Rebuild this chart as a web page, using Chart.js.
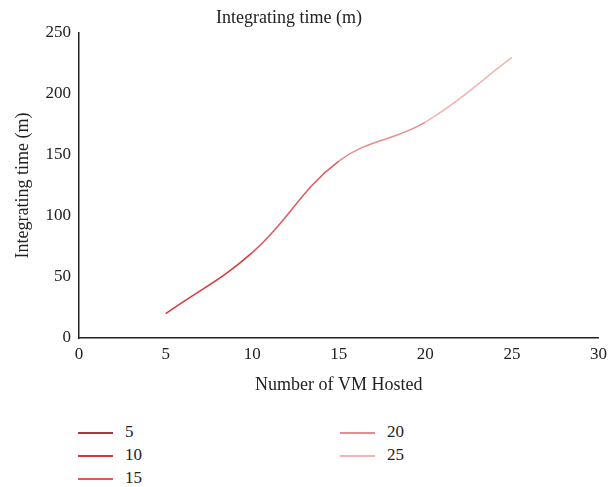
<!DOCTYPE html>
<html>
<head>
<meta charset="utf-8">
<script src="https://cdn.jsdelivr.net/npm/chart.js@4"></script>
<style>
  body { margin: 0; background: #fff; font-family: "Liberation Serif", serif; }
  #wrap { position: relative; width: 613px; height: 487px; }
  #box { position: absolute; left: 0; top: 0; width: 613px; height: 400px; }
  #title { position: absolute; left: 0; top: 7px; width: 578px; text-align: center; font-size: 18px; color: #222; }
  #legend { position: absolute; left: 0; top: 0; }
  .item { position: absolute; font-size: 17px; color: #222; line-height: 20px; }
  .item span.sw { position: absolute; left: 0; top: 10px; width: 35px; height: 1.5px; }
  .item span.lb { position: absolute; left: 47px; top: 0; white-space: nowrap; }
</style>
</head>
<body>
<div id="wrap">
  <div id="box"><canvas id="myChart"></canvas></div>
  <div id="title">Integrating time (m)</div>
  <div id="legend"></div>
</div>
<script>
// Number of VM hosted and integrating time
const vmHosted = [5, 10, 15, 20, 25];
const integratingTime = [20, 70, 145, 177, 230];
const seriesColors = ['#b0343a', '#d4393c', '#e05a5c', '#e88c8d', '#f1b4b4'];
const xTicks = [0, 5, 10, 15, 20, 25, 30];

const font = { family: "'Liberation Serif', serif", size: 17 };

const points = vmHosted.map((x, i) => ({ x: x, y: integratingTime[i] }));

const config = {
    type: 'line',
    data: {
        datasets: [{
            label: 'Integrating time (m)',
            data: points,
            borderWidth: 1.5,
            pointRadius: 0,
            tension: 0.4,
            borderColor: seriesColors[1],
            segment: {
                borderColor: ctx => seriesColors[ctx.p0DataIndex + 1] // colour of end point
            }
        }]
    },
    options: {
        responsive: false,
        animation: false,
        layout: { padding: { left: 8, right: -3, top: 33, bottom: 0 } },
        plugins: {
            legend: { display: false },
            tooltip: { enabled: false },
            title: { display: false }
        },
        scales: {
            x: {
                type: 'linear',
                min: 0,
                max: 30,
                afterBuildTicks: axis => { axis.ticks = xTicks.map(v => ({ value: v })); },
                grid: { display: false, drawTicks: false },
                border: { color: '#222', width: 1.5 },
                ticks: { color: '#222', font: font, padding: 6 },
                title: { display: true, text: 'Number of VM Hosted', color: '#222', font: { family: font.family, size: 18 }, padding: { top: 4 } }
            },
            y: {
                min: 0,
                max: 250,
                ticks: { stepSize: 50, color: '#222', font: font, padding: 8 },
                grid: { display: false, drawTicks: false },
                border: { color: '#222', width: 1.5 },
                title: { display: true, text: 'Integrating time (m)', color: '#222', font: { family: font.family, size: 18 }, padding: { bottom: 4 } }
            }
        }
    }
};

const canvas = document.getElementById('myChart');
canvas.width = 613;
canvas.height = 400;
const myChart = new Chart(canvas, config);

// legend in two columns, filled column by column
const legend = document.getElementById('legend');
const spots = [[78, 422], [78, 445], [78, 468], [340, 422], [340, 445]];
vmHosted.forEach((v, i) => {
    const it = document.createElement('div');
    it.className = 'item';
    it.style.left = spots[i][0] + 'px';
    it.style.top = spots[i][1] + 'px';
    it.innerHTML = '<span class="sw" style="background:' + seriesColors[i] + '"></span><span class="lb">' + v + '</span>';
    legend.appendChild(it);
});
</script>
</body>
</html>
